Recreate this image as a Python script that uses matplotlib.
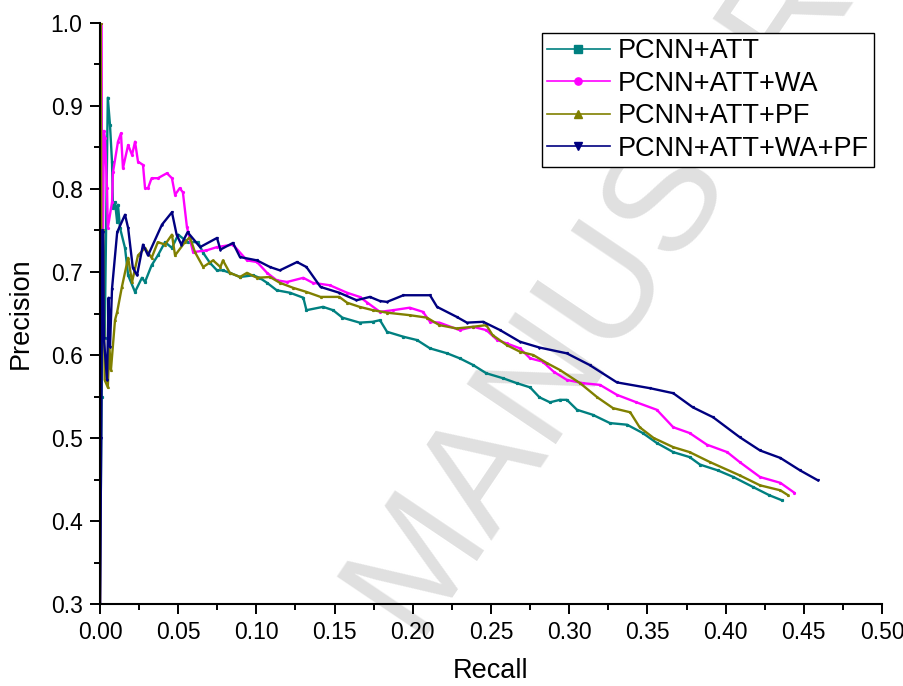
import numpy as np
import matplotlib
matplotlib.use("Agg")
import matplotlib.pyplot as plt

# recall / precision, one pair of lists per model
att_r = [0.0, 0.001, 0.002, 0.003, 0.005, 0.0064, 0.0077, 0.0083, 0.0096, 0.011, 0.0115, 0.0128,
         0.016, 0.018, 0.0224, 0.0268, 0.0288, 0.033, 0.037, 0.0416, 0.046, 0.050, 0.056, 0.0627,
         0.066, 0.0703, 0.0748, 0.0786, 0.083, 0.0895, 0.098, 0.102, 0.1068, 0.113, 0.1215, 0.13,
         0.132, 0.1426, 0.149, 0.155, 0.166, 0.1745, 0.179, 0.1835, 0.194, 0.2027, 0.211, 0.222,
         0.230, 0.2385, 0.247, 0.2577, 0.2666, 0.275, 0.281, 0.2877, 0.294, 0.2985, 0.305, 0.315,
         0.326, 0.337, 0.347, 0.356, 0.3665, 0.377, 0.3836, 0.395, 0.405, 0.4175, 0.428, 0.436]
att_p = [0.30, 0.55, 0.75, 0.62, 0.91, 0.877, 0.832, 0.777, 0.784, 0.760, 0.781, 0.753,
         0.729, 0.696, 0.676, 0.693, 0.688, 0.708, 0.720, 0.736, 0.729, 0.745, 0.736, 0.736,
         0.723, 0.711, 0.702, 0.702, 0.699, 0.694, 0.696, 0.693, 0.687, 0.678, 0.675, 0.669,
         0.654, 0.658, 0.654, 0.645, 0.639, 0.640, 0.642, 0.628, 0.622, 0.618, 0.608, 0.602,
         0.596, 0.588, 0.578, 0.572, 0.566, 0.561, 0.549, 0.543, 0.546, 0.546, 0.534, 0.528,
         0.518, 0.516, 0.506, 0.494, 0.483, 0.477, 0.468, 0.461, 0.453, 0.441, 0.431, 0.425]

wa_r = [0.0, 0.0008, 0.0015, 0.0025, 0.0032, 0.0045, 0.005, 0.0077, 0.0083, 0.0115, 0.0134, 0.0147,
        0.018, 0.0205, 0.0224, 0.0243, 0.0275, 0.0288, 0.0307, 0.033, 0.037, 0.0428, 0.046, 0.048,
        0.051, 0.053, 0.0556, 0.0595, 0.068, 0.0748, 0.085, 0.094, 0.1004, 0.1068, 0.113, 0.1196,
        0.13, 0.136, 0.147, 0.158, 0.166, 0.171, 0.179, 0.1874, 0.198, 0.2065, 0.211, 0.217,
        0.230, 0.2385, 0.247, 0.254, 0.260, 0.2685, 0.275, 0.283, 0.29, 0.2985, 0.309, 0.3197,
        0.3305, 0.343, 0.356, 0.3665, 0.377, 0.388, 0.401, 0.409, 0.422, 0.435, 0.444]
wa_p = [0.30, 1.00, 0.66, 0.87, 0.861, 0.801, 0.753, 0.784, 0.820, 0.857, 0.867, 0.825,
        0.853, 0.841, 0.857, 0.833, 0.829, 0.801, 0.801, 0.813, 0.813, 0.819, 0.813, 0.793,
        0.801, 0.796, 0.754, 0.724, 0.726, 0.730, 0.733, 0.714, 0.712, 0.699, 0.690, 0.688,
        0.693, 0.687, 0.684, 0.675, 0.670, 0.663, 0.652, 0.654, 0.657, 0.652, 0.640, 0.639,
        0.630, 0.634, 0.630, 0.618, 0.614, 0.608, 0.596, 0.592, 0.580, 0.570, 0.566, 0.564,
        0.552, 0.543, 0.534, 0.513, 0.506, 0.492, 0.483, 0.471, 0.453, 0.446, 0.434]

pf_r = [0.0, 0.0005, 0.001, 0.002, 0.003, 0.005, 0.006, 0.007, 0.0096, 0.011, 0.014, 0.018,
        0.0205, 0.0243, 0.0288, 0.033, 0.037, 0.0416, 0.046, 0.048, 0.0543, 0.0575, 0.0607,
        0.066, 0.0723, 0.077, 0.0786, 0.083, 0.0895, 0.094, 0.1004, 0.1087, 0.115, 0.1234,
        0.132, 0.141, 0.153, 0.158, 0.166, 0.1745, 0.1835, 0.198, 0.209, 0.217, 0.228, 0.2385,
        0.247, 0.251, 0.260, 0.2685, 0.277, 0.286, 0.294, 0.307, 0.318, 0.328, 0.339, 0.345,
        0.354, 0.3665, 0.377, 0.390, 0.409, 0.422, 0.435, 0.440]
pf_p = [0.30, 1.00, 0.62, 0.75, 0.57, 0.561, 0.610, 0.582, 0.642, 0.652, 0.682, 0.717,
        0.688, 0.720, 0.729, 0.717, 0.736, 0.733, 0.745, 0.720, 0.736, 0.742, 0.724,
        0.706, 0.714, 0.706, 0.714, 0.699, 0.694, 0.699, 0.693, 0.694, 0.687, 0.681,
        0.676, 0.670, 0.670, 0.663, 0.658, 0.654, 0.651, 0.648, 0.645, 0.636, 0.632, 0.634,
        0.636, 0.624, 0.612, 0.604, 0.600, 0.590, 0.582, 0.566, 0.549, 0.536, 0.531, 0.513,
        0.500, 0.489, 0.483, 0.471, 0.455, 0.443, 0.437, 0.431]

wapf_r = [0.0, 0.0008, 0.0015, 0.002, 0.0025, 0.0045, 0.0055, 0.0064, 0.0077, 0.011, 0.016, 0.018,
          0.021, 0.0237, 0.0275, 0.0307, 0.0396, 0.046, 0.049, 0.052, 0.056, 0.064, 0.0748,
          0.077, 0.085, 0.0895, 0.1004, 0.1087, 0.115, 0.126, 0.132, 0.141, 0.153, 0.164,
          0.1726, 0.179, 0.1835, 0.194, 0.211, 0.2155, 0.228, 0.2346, 0.245, 0.2558, 0.2685,
          0.281, 0.2985, 0.313, 0.3305, 0.3517, 0.3665, 0.379, 0.392, 0.409, 0.422, 0.435,
          0.4476, 0.459]
wapf_p = [0.30, 0.50, 0.75, 0.748, 0.62, 0.57, 0.669, 0.61, 0.68, 0.748, 0.769, 0.753,
          0.705, 0.696, 0.733, 0.720, 0.757, 0.772, 0.745, 0.733, 0.748, 0.730, 0.741,
          0.727, 0.735, 0.718, 0.714, 0.706, 0.702, 0.712, 0.706, 0.682, 0.675, 0.666,
          0.670, 0.665, 0.664, 0.672, 0.672, 0.658, 0.646, 0.639, 0.640, 0.630, 0.616,
          0.609, 0.602, 0.588, 0.567, 0.560, 0.554, 0.537, 0.525, 0.501, 0.485, 0.476,
          0.461, 0.449]

labels = ['PCNN+ATT', 'PCNN+ATT+WA', 'PCNN+ATT+PF', 'PCNN+ATT+WA+PF']
colors = ['#008080', '#ff00ff', '#808000', '#000080']
markers = ['s', 'o', '^', 'v']

plt.rcParams['font.family'] = ['Liberation Sans', 'DejaVu Sans']

fig = plt.figure(figsize=(9.04, 6.86), dpi=100)
ax = fig.add_axes([0.1106, 0.1195, 0.8651, 0.847])
ax.set_zorder(2)
ax.set_facecolor('none')

# faint watermark behind the plot
fig.text(0.42, 0.105, 'MANUSCRIPT', fontsize=112, color='#e0e0e0', rotation=56,
         rotation_mode='anchor', ha='left', va='center', zorder=0)

series = [(att_r, att_p), (wa_r, wa_p), (pf_r, pf_p), (wapf_r, wapf_p)]
for (r, p), lab, c, m in zip(series, labels, colors, markers):
    ax.plot(r, p, color=c, lw=1.7, marker=m, markersize=1.3, label=lab)

ax.set_xlim(0, 0.5)
ax.set_ylim(0.3, 1.0)
ax.set_xticks(np.arange(0, 0.501, 0.05))
ax.set_xticks(np.arange(0.025, 0.5, 0.05), minor=True)
ax.set_yticks(np.arange(0.3, 1.001, 0.1))
ax.set_yticks(np.arange(0.35, 1.0, 0.1), minor=True)
ax.set_xticklabels(['%.2f' % v for v in np.arange(0, 0.501, 0.05)])
ax.set_yticklabels(['%.1f' % v for v in np.arange(0.3, 1.001, 0.1)])

for s in ['top', 'right']:
    ax.spines[s].set_visible(False)
for s in ['left', 'bottom']:
    ax.spines[s].set_linewidth(1.5)
ax.tick_params(which='major', direction='out', length=7.5, width=1.4, labelsize=16.5, pad=5)
ax.tick_params(which='minor', direction='out', length=4, width=1.4)

ax.set_xlabel('Recall', fontsize=19.5, labelpad=10)
ax.set_ylabel('Precision', fontsize=19.5, labelpad=12)

leg = ax.legend(loc='upper right', bbox_to_anchor=(0.99, 0.983), fontsize=19.5,
                frameon=True, fancybox=False, framealpha=1, edgecolor='black',
                handlelength=2.3, handletextpad=0.3, labelspacing=0.24,
                borderpad=0.2, borderaxespad=0, markerscale=4)
leg.get_frame().set_linewidth(1.0)
for h in leg.legend_handles:
    h.set_linewidth(1.2)

fig.savefig('out.png', dpi=100)
